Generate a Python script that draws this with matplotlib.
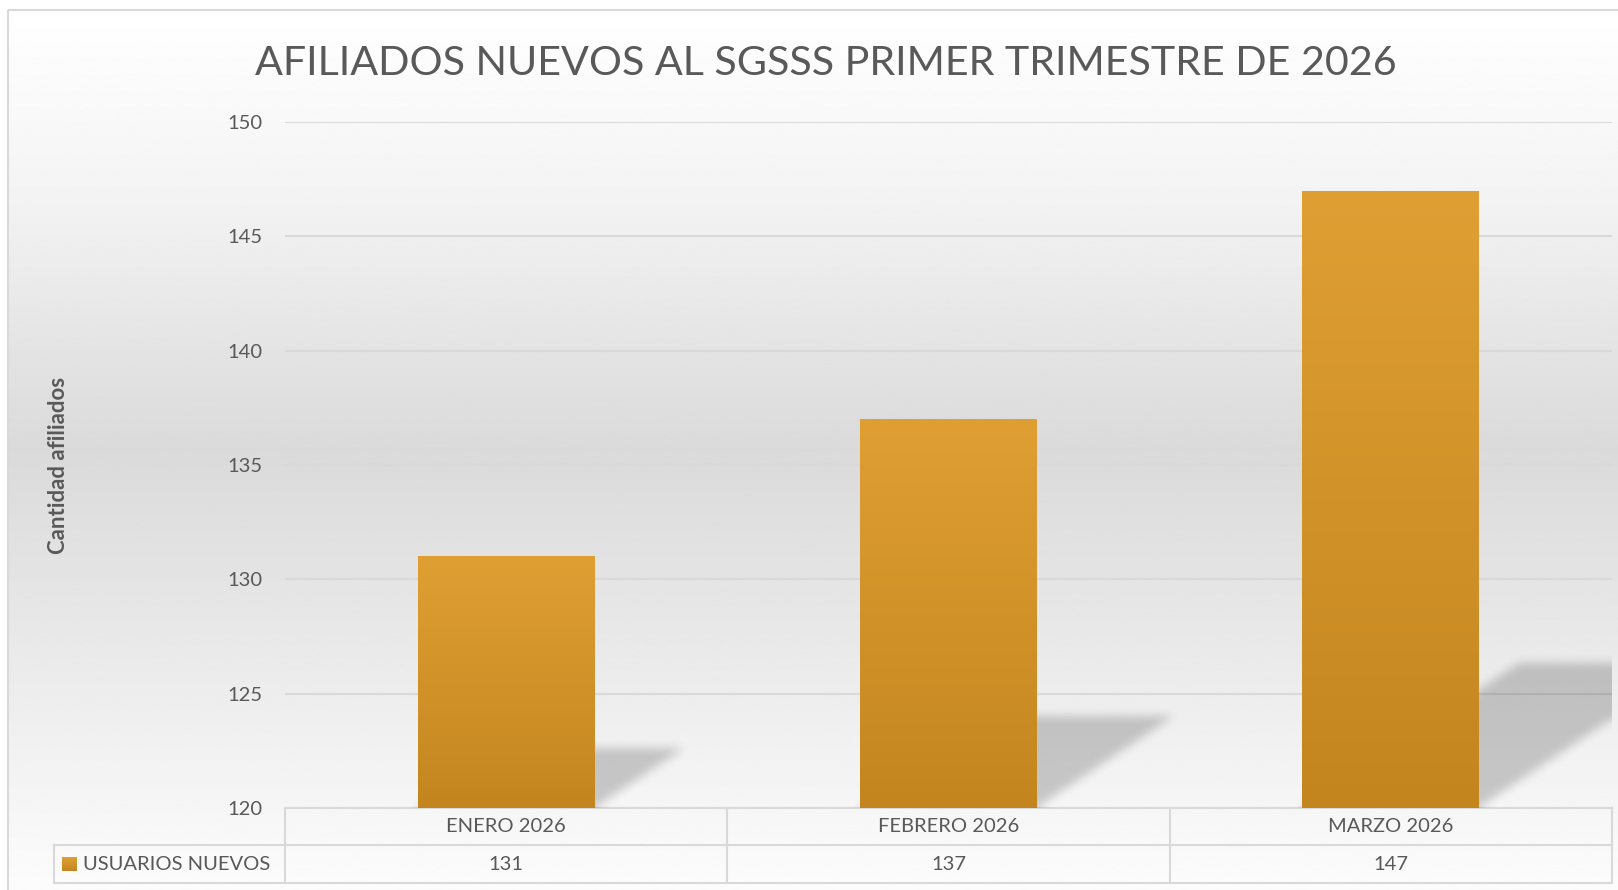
import numpy as np
import matplotlib
matplotlib.use("Agg")
import matplotlib.pyplot as plt
from matplotlib.patches import Rectangle
from matplotlib.colors import LinearSegmentedColormap

plt.rcParams['font.family'] = ['Lato', 'DejaVu Sans']

TITLE = "AFILIADOS NUEVOS AL SGSSS PRIMER TRIMESTRE DE 2026"
Y_LABEL = "Cantidad afiliados"
SERIES_NAME = "USUARIOS NUEVOS"
categories = ["ENERO 2026", "FEBRERO 2026", "MARZO 2026"]
usuarios_nuevos = [131, 137, 147]
y_ticks = [120, 125, 130, 135, 140, 145, 150]

W, H = 1618, 890
TEXT = "#595959"
LINE = "#d9d9d9"
BAR_TOP = "#df9f33"
BAR_BOTTOM = "#c3861f"
bar_cmap = LinearSegmentedColormap.from_list("bar", [BAR_BOTTOM, BAR_TOP])


def blur(a, r):
    # box blur twice along both axes, edge padded
    k = np.ones(2 * r + 1) / (2 * r + 1)
    for _ in range(2):
        for axis in (0, 1):
            pad = [(0, 0), (0, 0)]
            pad[axis] = (r, r)
            p = np.pad(a, pad, mode='edge')
            a = np.apply_along_axis(lambda v: np.convolve(v, k, mode='valid'), axis, p)
    return a


fig = plt.figure(figsize=(W / 100, H / 100), dpi=100)

# background layer in pixel coordinates
bg = fig.add_axes([0, 0, 1, 1], zorder=0)
bg.set_xlim(0, W)
bg.set_ylim(H, 0)
bg.axis('off')
ys = np.linspace(0, 1, 400)
grad = np.interp(ys, [0, 0.2, 0.5, 1.0], [255, 244, 218, 252]) / 255
bg.imshow(grad.reshape(-1, 1), cmap='gray', vmin=0, vmax=1, aspect='auto',
          extent=(9, W, H, 10), interpolation='bilinear')
bg.add_patch(Rectangle((8.5, 9.5), W + 20, H + 20, fill=False, ec=LINE, lw=1.5))
bg.set_xlim(0, W)
bg.set_ylim(H, 0)

# main plot area
ax = fig.add_axes([285 / W, 1 - 808 / H, (1612 - 285) / W, (808 - 122) / H], zorder=1)
ax.patch.set_alpha(0)
x = np.arange(len(categories))
base = y_ticks[0]
bars = ax.bar(x, np.array(usuarios_nuevos) - base, bottom=base, width=0.4,
              color=BAR_BOTTOM, zorder=3)

# gradient fill on each bar
g = np.linspace(0, 1, 256).reshape(-1, 1)
for b in bars:
    im = ax.imshow(g, cmap=bar_cmap, aspect='auto', origin='lower', zorder=4,
                   extent=(b.get_x(), b.get_x() + b.get_width(), base, base + b.get_height()))
    im.set_clip_path(b)

ax.set_xlim(-0.5, len(categories) - 0.5)
ax.set_ylim(y_ticks[0], y_ticks[-1])

# perspective shadows behind the bars
nx, ny = 1327, 686
sx = np.linspace(-0.5, len(categories) - 0.5, nx)
sy = np.linspace(y_ticks[0], y_ticks[-1], ny)
T = sy[:, None] - base
X = sx[None, :]
px_per_y = ny / (y_ticks[-1] - y_ticks[0])
px_per_x = nx / len(categories)
slope = 1.5 * px_per_y / px_per_x
mask = np.zeros((ny, nx))
for b in bars:
    h = b.get_height()
    left, right = b.get_x(), b.get_x() + b.get_width()
    inside = (T <= 0.235 * h) & (X >= left + slope * T) & (X <= right + slope * T)
    mask[inside] = 1
mask = blur(mask, 5)
shadow = np.zeros((ny, nx, 4))
shadow[..., 3] = 0.19 * mask
ax.imshow(shadow, aspect='auto', origin='lower', zorder=2, interpolation='bilinear',
          extent=(-0.5, len(categories) - 0.5, y_ticks[0], y_ticks[-1]))
ax.set_xlim(-0.5, len(categories) - 0.5)
ax.set_ylim(y_ticks[0], y_ticks[-1])

ax.set_yticks(y_ticks)
ax.set_xticks([])
ax.yaxis.grid(True, color=LINE, lw=1.5, zorder=1)
ax.set_axisbelow(True)
for s in ax.spines.values():
    s.set_visible(False)
ax.tick_params(axis='y', length=0, pad=16.5, labelsize=14.5, labelcolor=TEXT)

# data table under the plot, in pixel coordinates
def to_px(xv, yv):
    return bg.transData.inverted().transform(ax.transData.transform((xv, yv)))

edges = [to_px(e, base)[0] for e in np.arange(len(categories) + 1) - 0.5]
top = to_px(0, base)[1]
row_h = 37.5
leg_left = 54
kw = dict(color=LINE, lw=1.5, zorder=5)
bg.plot([edges[0], edges[-1]], [top, top], **kw)
bg.plot([leg_left, edges[-1]], [top + row_h, top + row_h], **kw)
bg.plot([leg_left, edges[-1]], [top + 2 * row_h, top + 2 * row_h], **kw)
for e in edges:
    bg.plot([e, e], [top, top + 2 * row_h], **kw)
bg.plot([leg_left, leg_left], [top + row_h, top + 2 * row_h], **kw)

for i, (cat, val) in enumerate(zip(categories, usuarios_nuevos)):
    cx = (edges[i] + edges[i + 1]) / 2
    bg.text(cx, top + row_h / 2, cat, ha='center', va='center', fontsize=14.5, color=TEXT)
    bg.text(cx, top + 1.5 * row_h, str(val), ha='center', va='center', fontsize=14.5, color=TEXT)

key_y = top + 1.5 * row_h
key = Rectangle((62, key_y - 7), 15, 14, fc=BAR_BOTTOM, ec='none', zorder=5)
bg.add_patch(key)
kim = bg.imshow(g[::-1], cmap=bar_cmap, aspect='auto', zorder=6, extent=(62, 77, key_y + 7, key_y - 7))
kim.set_clip_path(key)
bg.text(83, key_y, SERIES_NAME, ha='left', va='center', fontsize=14.5, color=TEXT)

bg.set_xlim(0, W)
bg.set_ylim(H, 0)

bg.text(59, 465, Y_LABEL, rotation=90, ha='center', va='center', fontsize=16,
        fontweight='bold', color=TEXT)
bg.text(826, 75, TITLE, ha='center', va='baseline', fontsize=29.7, color=TEXT)

fig.savefig("out.png", dpi=100)
